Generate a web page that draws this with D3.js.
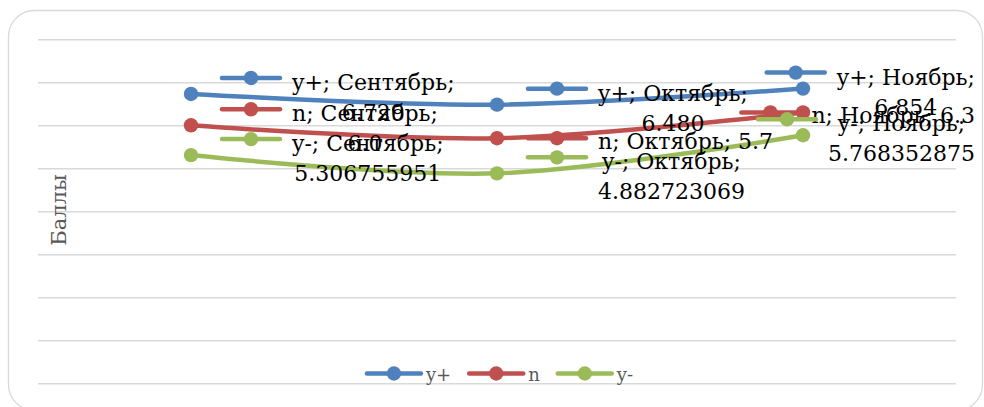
<!DOCTYPE html>
<html><head><meta charset="utf-8">
<script src="https://cdn.jsdelivr.net/npm/d3@7"></script>
<style>html,body{margin:0;padding:0;background:#fff;} svg{display:block;}</style>
</head><body>
<svg id="chart" width="984" height="407"></svg>
<script>
const categories = ["Сентябрь", "Октябрь", "Ноябрь"];
const seriesNames = ["y+", "n", "y-"];
const yPlusValues = [6.729, 6.480, 6.854];
const nValues = [6.0, 5.7, 6.3];
const yMinusValues = [5.306755951, 4.882723069, 5.768352875];
const yPlusLabels = ["6.729", "6.480", "6.854"];
const nLabels = ["6.0", "5.7", "6.3"];
const yMinusLabels = ["5.306755951", "4.882723069", "5.768352875"];
const yTicks = [0, 1, 2, 3, 4, 5, 6, 7, 8];
const axisTitle = "Баллы";
const colors = ["#4f81bd", "#c0504d", "#9bbb59"];

const series = seriesNames.map((name, i) => ({
  name,
  values: [yPlusValues, nValues, yMinusValues][i],
  labels: [yPlusLabels, nLabels, yMinusLabels][i],
  color: colors[i]
}));

const FONT = "'DejaVu Serif', serif";
const svg = d3.select("#chart");

svg.append("rect").attr("x", 8.5).attr("y", 10.5).attr("width", 974).attr("height", 400)
  .attr("rx", 26).attr("fill", "#fff").attr("stroke", "#d9d9d9").attr("stroke-width", 1.3);

const x = d3.scalePoint().domain(categories).range([38, 956]).padding(0.5);
const y = d3.scaleLinear().domain([0, 8]).range([383.3, 39.3]);

const gAxis = svg.append("g").attr("transform", "translate(38,0)")
  .call(d3.axisLeft(y).tickValues(yTicks).tickSize(-918).tickFormat(""));
gAxis.select(".domain").remove();
gAxis.selectAll(".tick line").attr("stroke", "#d9d9d9").attr("stroke-width", 1.4);

// axis title
svg.append("text").attr("transform", "translate(66,210) rotate(-90)")
  .attr("text-anchor", "middle").attr("font-family", FONT).attr("font-size", 21)
  .attr("fill", "#595959").text(axisTitle);

const line = d3.line().x((d, i) => x(categories[i])).y(d => y(d)).curve(d3.curveCatmullRom.alpha(0));

const seriesLayer = svg.append("g");
series.forEach(s => {
  seriesLayer.append("path").attr("d", line(s.values)).attr("fill", "none")
    .attr("stroke", s.color).attr("stroke-width", 4.5).attr("stroke-linecap", "round");
});
series.forEach(s => {
  seriesLayer.selectAll(null).data(s.values).enter().append("circle")
    .attr("cx", (d, i) => x(categories[i])).attr("cy", d => y(d)).attr("r", 7.2).attr("fill", s.color);
});

// measuring helper
const meas = svg.append("text").attr("font-family", FONT).attr("font-size", 22).attr("visibility", "hidden");
function tw(str, size) { meas.attr("font-size", size).text(str); return meas.node().getComputedTextLength(); }

function drawKey(g, cx, cy, len, color) {
  g.append("line").attr("x1", cx - len / 2).attr("x2", cx + len / 2).attr("y1", cy).attr("y2", cy)
    .attr("stroke", color).attr("stroke-width", 4.5).attr("stroke-linecap", "round");
  g.append("circle").attr("cx", cx).attr("cy", cy).attr("r", 7.2).attr("fill", color);
}

// data labels
const labelsLayer = svg.append("g");
const FS = 22, KEYW = 58, GAP = 12, RIGHT = 975, WRAP = 180;
series.forEach(s => {
  s.values.forEach((v, i) => {
    const px = x(categories[i]), py = y(v);
    const full = `${s.name}; ${categories[i]}; ${s.labels[i]}`;
    const lines = tw(full, FS) > WRAP ? [`${s.name}; ${categories[i]};`, s.labels[i]] : [full];
    const blockW = d3.max(lines, l => tw(l, FS));
    let left = px + 31;
    const total = KEYW + GAP + blockW;
    if (left + total > RIGHT) left = RIGHT - total;
    const g = labelsLayer.append("g");
    const keyY = lines.length === 2 ? py - 16 : py;
    const baselines = lines.length === 2 ? [py - 4, py + 26] : [py + 10.5];
    drawKey(g, left + KEYW / 2, keyY, KEYW, s.color);
    const tcx = left + KEYW + GAP + blockW / 2;
    lines.forEach((l, k) => {
      g.append("text").attr("x", tcx).attr("y", baselines[k]).attr("text-anchor", "middle")
        .attr("font-family", FONT).attr("font-size", FS).attr("fill", "#000").text(l);
    });
  });
});

// legend
const LFS = 18, LKEY = 54, LGAP = 5, LITEM = 18;
const widths = seriesNames.map(n => LKEY + LGAP + tw(n, LFS));
const totalL = d3.sum(widths) + LITEM * (seriesNames.length - 1);
let lx = 500 - totalL / 2;
const legend = svg.append("g");
series.forEach((s, i) => {
  drawKey(legend, lx + LKEY / 2, 373.5, LKEY, s.color);
  legend.append("text").attr("x", lx + LKEY + LGAP).attr("y", 380.5)
    .attr("font-family", FONT).attr("font-size", LFS).attr("fill", "#595959").text(s.name);
  lx += widths[i] + LITEM;
});
meas.remove();
</script>
</body></html>
